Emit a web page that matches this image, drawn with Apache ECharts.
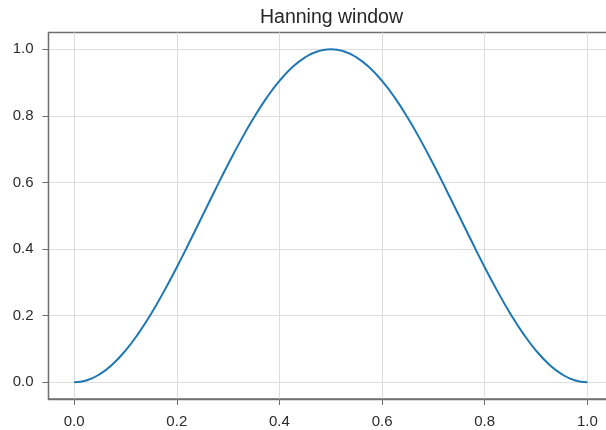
<!DOCTYPE html>
<html>
<head>
<meta charset="utf-8">
<script src="https://cdn.jsdelivr.net/npm/echarts@6/dist/echarts.min.js"></script>
<style>
  html, body { margin: 0; padding: 0; background: #ffffff; overflow: hidden; }
  /* the plot frame runs past the right edge of the window, so the canvas is wider than it */
  #chart { width: 620px; height: 430px; }
</style>
</head>
<body>
<div id="chart"></div>
<script>
// Hanning window samples
const xs = [0.000, 0.025, 0.050, 0.075, 0.100, 0.125, 0.150, 0.175, 0.200, 0.225,
            0.250, 0.275, 0.300, 0.325, 0.350, 0.375, 0.400, 0.425, 0.450, 0.475,
            0.500, 0.525, 0.550, 0.575, 0.600, 0.625, 0.650, 0.675, 0.700, 0.725,
            0.750, 0.775, 0.800, 0.825, 0.850, 0.875, 0.900, 0.925, 0.950, 0.975, 1.000];
const ys = [0.0000, 0.0062, 0.0245, 0.0545, 0.0955, 0.1464, 0.2061, 0.2730, 0.3455, 0.4218,
            0.5000, 0.5782, 0.6545, 0.7270, 0.7939, 0.8536, 0.9045, 0.9455, 0.9755, 0.9938,
            1.0000, 0.9938, 0.9755, 0.9455, 0.9045, 0.8536, 0.7939, 0.7270, 0.6545, 0.5782,
            0.5000, 0.4218, 0.3455, 0.2730, 0.2061, 0.1464, 0.0955, 0.0545, 0.0245, 0.0062, 0.0000];
const xTicks = [0.0, 0.2, 0.4, 0.6, 0.8, 1.0];
const yTicks = [0.0, 0.2, 0.4, 0.6, 0.8, 1.0];
const titleText = 'Hanning window';

const font = '"Liberation Sans", Arial, Helvetica, sans-serif';
const frameColor = '#707070';
const gridColor = '#dcdcdc';

const chart = echarts.init(document.getElementById('chart'), null, { renderer: 'canvas' });

function valueAxis(ticks) {
  return {
    type: 'value',
    min: -0.05,
    max: 1.05,
    axisLine: { show: true, onZero: false, lineStyle: { color: frameColor, width: 1.3 } },
    axisTick: { show: true, inside: false, length: 6, customValues: ticks,
                lineStyle: { color: frameColor, width: 1 } },
    axisLabel: { customValues: ticks, margin: 15, fontFamily: font, fontSize: 15, color: '#2b2b2b',
                 formatter: v => v.toFixed(1) },
    splitLine: { show: true, lineStyle: { color: gridColor, width: 1 } }
  };
}

chart.setOption({
  backgroundColor: '#ffffff',
  animation: false,
  title: {
    text: titleText,
    left: 326.5,
    textAlign: 'center',
    top: 3,
    textStyle: { fontFamily: font, fontSize: 19.5, fontWeight: 'normal', color: '#262626' }
  },
  grid: {
    left: 48.5, right: 7, top: 32.5, bottom: 31,
    show: true, borderColor: frameColor, borderWidth: 1.3, backgroundColor: '#ffffff'
  },
  xAxis: valueAxis(xTicks),
  yAxis: valueAxis(yTicks),
  series: [{
    type: 'line',
    data: xs.map((x, i) => [x, ys[i]]),
    smooth: true,
    showSymbol: false,
    lineStyle: { color: '#1f77b4', width: 2 }
  }]
});
</script>
</body>
</html>
